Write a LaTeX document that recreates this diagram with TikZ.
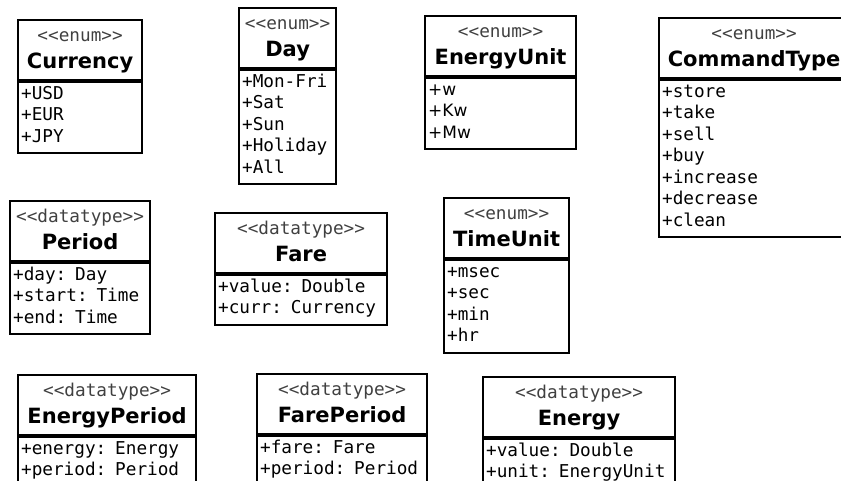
\documentclass[tikz,border=0pt]{standalone}
\usepackage{fontspec}
\setmonofont{DejaVu Sans Mono}
\setsansfont{DejaVu Sans}
\usetikzlibrary{positioning}
\newcommand{\stereofont}{\ttfamily\mdseries\fontsize{17.7}{21.5}\selectfont\color{black!75}}
\newcommand{\namefont}{\sffamily\bfseries\fontsize{21}{27.6}\selectfont}
\newcommand{\attrfont}{\ttfamily\fontsize{17.7}{21.5}\selectfont}
\newcommand{\unitfont}{\sffamily\fontsize{17}{21.5}\selectfont}

\begin{document}
\begin{tikzpicture}[
  x=1pt, y=-1pt,
  classhead/.style={draw, line width=2.2pt, anchor=north west,
                    inner xsep=0pt, inner ysep=0pt, align=center,
                    font=\namefont, text width=#1,
                    execute at begin node={\rule{0pt}{21pt}},
                    execute at end node={\rule[-11.4pt]{0pt}{11.4pt}}},
  classbody/.style={draw, line width=2.2pt, anchor=north west,
                    inner xsep=3pt, inner ysep=0pt, align=left,
                    font=\attrfont, text width=#1,
                    execute at begin node={\rule{0pt}{16.8pt}},
                    execute at end node={\rule[-11.2pt]{0pt}{11.2pt}}},
]
  \useasboundingbox (0,0) rectangle (841,481);
  \clip (0,0) rectangle (841,481);

  % enumerations
  \node[classhead=124pt] (currency) at (17,19) {{\stereofont <{}<enum>{}>}\\Currency};
  \node[classbody=118pt] (currency-attrs) at (currency.south west) {+USD\\+EUR\\+JPY};

  \node[classhead=97pt] (day) at (238,7) {{\stereofont <{}<enum>{}>}\\Day};
  \node[classbody=91pt] (day-attrs) at (day.south west) {+Mon-Fri\\+Sat\\+Sun\\+Holiday\\+All};

  \node[classhead=151pt] (energyunit) at (424,15) {{\stereofont <{}<enum>{}>}\\EnergyUnit};
  \node[classbody=145pt, font=\unitfont] (energyunit-attrs) at (energyunit.south west) {+w\\+Kw\\+Mw};

  \node[classhead=190pt] (commandtype) at (658,17) {{\stereofont <{}<enum>{}>}\\CommandType};
  \node[classbody=184pt] (commandtype-attrs) at (commandtype.south west) {+store\\+take\\+sell\\+buy\\+increase\\+decrease\\+clean};

  \node[classhead=125pt] (timeunit) at (443,197) {{\stereofont <{}<enum>{}>}\\TimeUnit};
  \node[classbody=119pt] (timeunit-attrs) at (timeunit.south west) {+msec\\+sec\\+min\\+hr};

  % datatypes
  \node[classhead=140pt] (period) at (9,200) {{\stereofont <{}<datatype>{}>}\\Period};
  \node[classbody=134pt] (period-attrs) at (period.south west) {+day: Day\\+start: Time\\+end: Time};

  \node[classhead=172pt] (fare) at (214,212) {{\stereofont <{}<datatype>{}>}\\Fare};
  \node[classbody=166pt] (fare-attrs) at (fare.south west) {+value: Double\\+curr: Currency};

  \node[classhead=178pt] (energyperiod) at (17,374) {{\stereofont <{}<datatype>{}>}\\EnergyPeriod};
  \node[classbody=172pt] (energyperiod-attrs) at (energyperiod.south west) {+energy: Energy\\+period: Period};

  \node[classhead=170pt] (fareperiod) at (256,373) {{\stereofont <{}<datatype>{}>}\\FarePeriod};
  \node[classbody=164pt] (fareperiod-attrs) at (fareperiod.south west) {+fare: Fare\\+period: Period};

  \node[classhead=192pt] (energy) at (482,376) {{\stereofont <{}<datatype>{}>}\\Energy};
  \node[classbody=186pt] (energy-attrs) at (energy.south west) {+value: Double\\+unit: EnergyUnit};
\end{tikzpicture}
\end{document}
